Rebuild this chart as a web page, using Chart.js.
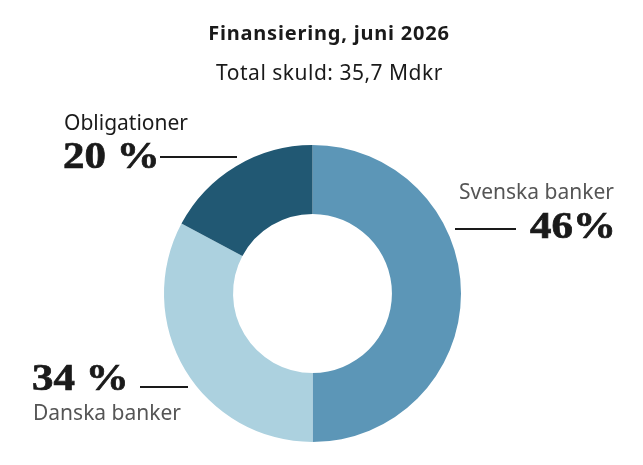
<!DOCTYPE html>
<html>
<head>
<meta charset="utf-8">
<script src="https://cdn.jsdelivr.net/npm/chart.js@4.4.1/dist/chart.umd.min.js"></script>
<style>
  html, body { margin: 0; padding: 0; background: #fff; }
  #wrap { width: 643px; height: 465px; }
</style>
</head>
<body>
<div id="wrap"><canvas id="pie"></canvas></div>
<script>
// Data (andelar som de ritas i bilden, samt etiketterna som står i texten)
const categories = ['Svenska banker', 'Danska banker', 'Obligationer'];
const shares = [50, 32.8, 17.2];
const shareLabels = ['46%', '34 %', '20 %'];
const colors = ['#5c96b7', '#acd1df', '#215873'];

const titleText = 'Finansiering, juni 2026';
const subtitleText = 'Total skuld: 35,7 Mdkr';

const SANS = "'Noto Sans', sans-serif";
const SERIF = "'Liberation Serif', serif";

// Etiketter och rubriker ritas direkt på canvas
const labelPlugin = {
    id: 'labels',
    afterDraw(chart) {
        const ctx = chart.ctx;
        ctx.save();
        ctx.textBaseline = 'alphabetic';

        // Rubrik
        ctx.fillStyle = '#1a1a1a';
        ctx.textAlign = 'center';
        ctx.letterSpacing = '0.8px';
        ctx.font = `bold 20px ${SANS}`;
        ctx.fillText(titleText, 329, 40);
        ctx.letterSpacing = '0.5px';
        ctx.font = `21px ${SANS}`;
        ctx.fillText(subtitleText, 329.5, 80);
        ctx.letterSpacing = '0px';

        ctx.textAlign = 'left';
        ctx.strokeStyle = '#1a1a1a';
        ctx.lineWidth = 2;
        const line = (x1, x2, y) => {
            ctx.beginPath();
            ctx.moveTo(x1, y);
            ctx.lineTo(x2, y);
            ctx.stroke();
        };
        // tjocka serifsiffror, lite utdragna i bredd
        const big = (txt, x, y) => {
            ctx.save();
            ctx.translate(x, y);
            ctx.scale(1.13, 1);
            ctx.font = `bold 38px ${SERIF}`;
            ctx.fillStyle = '#1a1a1a';
            ctx.lineWidth = 0.7;
            ctx.fillText(txt, 0, 0);
            ctx.strokeText(txt, 0, 0);
            ctx.restore();
        };

        // Obligationer
        ctx.fillStyle = '#1a1a1a';
        ctx.font = `21px ${SANS}`;
        ctx.fillText(categories[2], 64, 130);
        big(shareLabels[2], 63, 168);
        line(160, 237, 157);

        // Svenska banker
        ctx.fillStyle = '#555555';
        ctx.font = `21px ${SANS}`;
        ctx.fillText(categories[0], 459, 199);
        big(shareLabels[0], 530, 238);
        line(455, 516, 229);

        // Danska banker
        big(shareLabels[1], 32, 390);
        line(140, 188, 387);
        ctx.fillStyle = '#555555';
        ctx.font = `21px ${SANS}`;
        ctx.fillText(categories[1], 33, 420);

        ctx.restore();
    }
};

new Chart(document.getElementById('pie'), {
    type: 'doughnut',
    data: {
        labels: categories,
        datasets: [{
            data: shares,
            backgroundColor: colors,
            borderWidth: 0
        }]
    },
    options: {
        responsive: true,
        maintainAspectRatio: false,
        animation: false,
        cutout: '53.5%',
        layout: { padding: { top: 145, bottom: 23, left: 164, right: 182 } },
        plugins: {
            legend: { display: false },
            tooltip: { enabled: false }
        }
    },
    plugins: [labelPlugin]
});
</script>
</body>
</html>
